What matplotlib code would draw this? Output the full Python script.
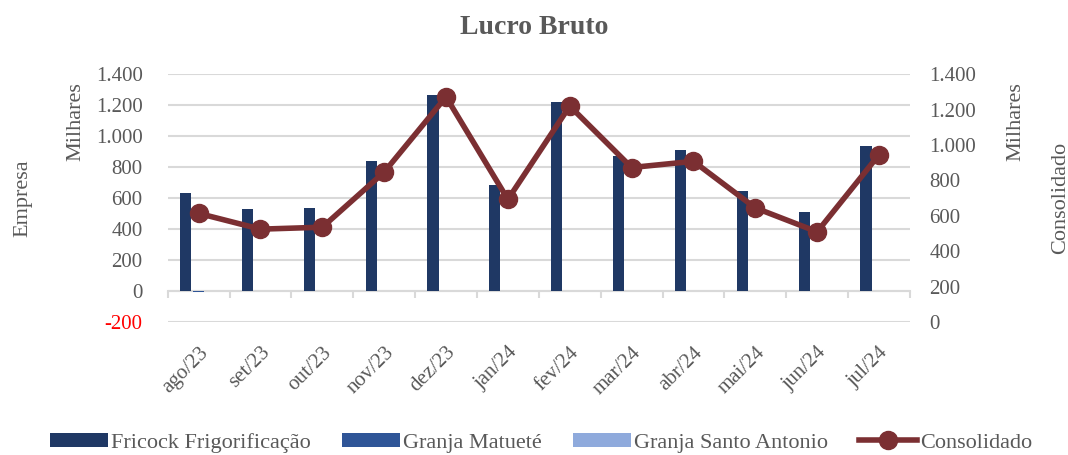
import matplotlib.pyplot as plt
import numpy as np

meses = ['ago/23', 'set/23', 'out/23', 'nov/23', 'dez/23', 'jan/24',
         'fev/24', 'mar/24', 'abr/24', 'mai/24', 'jun/24', 'jul/24']

# valores em milhares
fricock = [632, 530, 538, 839, 1265, 688, 1219, 871, 912, 643, 512, 935]
matuete = [-8, 0, 0, 0, 0, 0, 0, 0, 0, 0, 0, 0]
santo_antonio = [3, 0, 0, 4, 4, 0, 0, 0, 0, 0, 3, 4]
consolidado = [614, 525, 536, 847, 1272, 693, 1220, 873, 908, 645, 510, 945]

cinza = '#595959'
plt.rcParams['font.family'] = ['Liberation Serif', 'DejaVu Serif']

fig = plt.figure(figsize=(10.68, 4.55), dpi=100)
ax = fig.add_axes([0.157, 0.292, 0.695, 0.545])

x = np.arange(len(meses))
larg = 0.18
ax.bar(x - 0.21, fricock, larg, color='#1F3864', label='Fricock Frigorificação', zorder=3)
ax.bar(x, matuete, larg, color='#2F5597', label='Granja Matueté', zorder=3)
ax.bar(x + 0.21, santo_antonio, larg, color='#8FAADC', label='Granja Santo Antonio', zorder=3)

ax.set_ylim(-200, 1400)
ax.set_yticks(range(-200, 1401, 200))
ax.set_yticklabels([f'{v:,}'.replace(',', '.') for v in range(-200, 1401, 200)])
ax.set_xlim(-0.5, len(meses) - 0.5)
ax.set_xticks(x)
ax.set_xticklabels(meses, rotation=45, ha='right', rotation_mode='anchor')
ax.tick_params(axis='x', length=0, pad=15, labelsize=15, labelcolor=cinza)
ax.tick_params(axis='y', length=0, pad=18, labelsize=15, labelcolor=cinza)
ax.get_yticklabels()[0].set_color('red')
ax.grid(axis='y', color='#D9D9D9', linewidth=1.5, zorder=0)
for s in ax.spines.values():
    s.set_visible(False)

# eixo das categorias passando pelo zero
eixo0 = ax.secondary_xaxis(200 / 1600)
eixo0.set_xticks(np.arange(-0.5, len(meses), 1))
eixo0.set_xticklabels([])
eixo0.tick_params(axis='x', direction='out', length=5, color='#D9D9D9', width=1.5)
eixo0.spines['bottom'].set_color('#D9D9D9')
eixo0.spines['bottom'].set_linewidth(1.5)

ax2 = ax.twinx()
ax2.plot(x, consolidado, color='#7B2F32', linewidth=4, marker='o', markersize=13,
         label='Consolidado', zorder=5)
ax2.set_ylim(0, 1400)
ax2.set_yticks(range(0, 1401, 200))
ax2.set_yticklabels([f'{v:,}'.replace(',', '.') for v in range(0, 1401, 200)])
ax2.tick_params(axis='y', length=0, pad=14, labelsize=15, labelcolor=cinza)
for s in ax2.spines.values():
    s.set_visible(False)

fig.text(0.5, 0.94, 'Lucro Bruto', ha='center', va='center', fontsize=20,
         fontweight='bold', color=cinza)
fig.text(0.021, 0.565, 'Empresa', rotation=90, ha='center', va='center', fontsize=16, color=cinza)
fig.text(0.071, 0.733, 'Milhares', rotation=90, ha='center', va='center', fontsize=16, color=cinza)
fig.text(0.951, 0.733, 'Milhares', rotation=90, ha='center', va='center', fontsize=16, color=cinza)
fig.text(0.993, 0.565, 'Consolidado', rotation=90, ha='center', va='center', fontsize=16, color=cinza)

h1, l1 = ax.get_legend_handles_labels()
h2, l2 = ax2.get_legend_handles_labels()
fig.legend(h1 + h2, l1 + l2, loc='center', bbox_to_anchor=(0.507, 0.027), ncol=4,
           frameon=False, fontsize=16, labelcolor=cinza, handlelength=2.6,
           handleheight=0.6, handletextpad=0.15, columnspacing=1.4)

fig.savefig('out.png', dpi=100)
